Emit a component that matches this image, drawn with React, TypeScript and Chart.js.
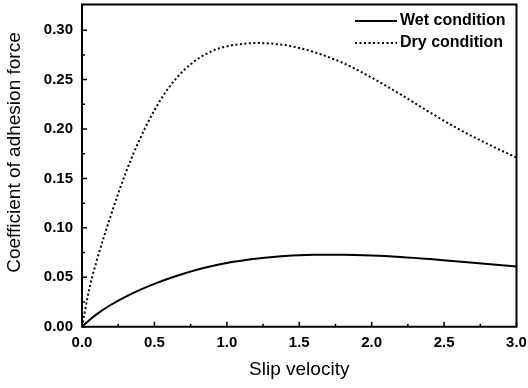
import React, { useEffect, useRef } from "react";
import { Chart, registerables } from "chart.js";

Chart.register(...registerables);

const velocity = [0, 0.05, 0.1, 0.2, 0.3, 0.4, 0.5, 0.6, 0.7, 0.8, 0.9, 1.0, 1.1, 1.2, 1.3, 1.4, 1.5, 1.6, 1.8, 2.0, 2.2, 2.4, 2.6, 2.8, 3.0];
const wetValues = [0, 0.0065, 0.0125, 0.0222, 0.0302, 0.0372, 0.0433, 0.0487, 0.0535, 0.0578, 0.0614, 0.0645, 0.0668, 0.0688, 0.0703, 0.0715, 0.0723, 0.0727, 0.0728, 0.0721, 0.0706, 0.0685, 0.066, 0.0635, 0.061];
const dryValues = [0, 0.038, 0.066, 0.113, 0.155, 0.19, 0.219, 0.242, 0.259, 0.271, 0.279, 0.2837, 0.286, 0.287, 0.2865, 0.285, 0.282, 0.278, 0.267, 0.252, 0.235, 0.217, 0.2, 0.185, 0.171];
const seriesLabels = ["Wet condition", "Dry condition"];
const xTitle = "Slip velocity";
const yTitle = "Coefficient of adhesion force";

const FONT = "'Liberation Sans', Arial, sans-serif";

const framePlugin = {
  id: "frameTicks",
  afterDatasetsDraw(chart: any) {
    const { ctx, chartArea } = chart;
    const { left, right, top, bottom } = chartArea;
    const xs = chart.scales.x;
    const ys = chart.scales.y;
    ctx.save();
    ctx.strokeStyle = "#000";
    ctx.lineWidth = 2;
    ctx.beginPath();
    ctx.rect(left, top, right - left, bottom - top);
    ctx.stroke();
    ctx.lineWidth = 1.5;
    ctx.beginPath();
    for (let v = 0; v <= 3.0001; v += 0.25) {
      const px = xs.getPixelForValue(v);
      const major = Math.abs(v * 2 - Math.round(v * 2)) < 1e-6;
      const len = major ? 5 : 3;
      ctx.moveTo(px, bottom);
      ctx.lineTo(px, bottom - len);
    }
    for (let v = 0; v <= 0.3001; v += 0.025) {
      const py = ys.getPixelForValue(v);
      const major = Math.abs(v * 20 - Math.round(v * 20)) < 1e-6;
      const len = major ? 5 : 3;
      ctx.moveTo(left, py);
      ctx.lineTo(left + len, py);
    }
    ctx.stroke();

    // y axis title (offset upward as in the original)
    ctx.save();
    ctx.translate(15, 152.5);
    ctx.rotate(-Math.PI / 2);
    ctx.font = `19px ${FONT}`;
    ctx.fillStyle = "#000";
    ctx.textAlign = "center";
    ctx.textBaseline = "middle";
    ctx.fillText(yTitle, 0, 0);
    ctx.restore();

    // legend
    const rows = [
      { y: 21, ds: chart.data.datasets[0] },
      { y: 43, ds: chart.data.datasets[1] },
    ];
    ctx.font = `bold 16px ${FONT}`;
    ctx.textBaseline = "middle";
    ctx.textAlign = "left";
    ctx.fillStyle = "#000";
    for (const r of rows) {
      ctx.beginPath();
      ctx.strokeStyle = "#000";
      ctx.lineWidth = r.ds.borderWidth;
      ctx.setLineDash(r.ds.borderDash || []);
      ctx.moveTo(355, r.y);
      ctx.lineTo(397, r.y);
      ctx.stroke();
      ctx.setLineDash([]);
      ctx.fillText(r.ds.label, 400, r.y);
    }
    ctx.restore();
  },
};

export default function App() {
  const ref = useRef<HTMLCanvasElement | null>(null);
  useEffect(() => {
    const canvas = ref.current;
    if (!canvas) return;
    const chart = new Chart(canvas, {
      type: "line",
      data: {
        datasets: [
          {
            label: seriesLabels[0],
            data: velocity.map((x, i) => ({ x, y: wetValues[i] })),
            borderColor: "#000",
            borderWidth: 2,
            pointRadius: 0,
            cubicInterpolationMode: "monotone",
            fill: false,
          },
          {
            label: seriesLabels[1],
            data: velocity.map((x, i) => ({ x, y: dryValues[i] })),
            borderColor: "#000",
            borderWidth: 2,
            borderDash: [2, 2.5],
            pointRadius: 0,
            cubicInterpolationMode: "monotone",
            fill: false,
          },
        ],
      },
      options: {
        animation: false,
        responsive: false,
        devicePixelRatio: 1,
        layout: { padding: { left: 0, top: 4.5, right: 11.5, bottom: 0 } },
        plugins: { legend: { display: false }, tooltip: { enabled: false } },
        scales: {
          x: {
            type: "linear",
            min: 0,
            max: 3,
            afterFit: (s: any) => { s.height = 61.3; s.paddingLeft = 0; s.paddingRight = 0; },
            grid: { display: false, drawTicks: false },
            border: { display: false },
            ticks: {
              stepSize: 0.5,
              includeBounds: false,
              padding: 7,
              color: "#000",
              font: { family: FONT, size: 15, weight: "bold" },
              callback: (v: any) => Number(v).toFixed(1),
            },
            title: {
              display: true,
              text: xTitle,
              color: "#000",
              font: { family: FONT, size: 19 },
              padding: { top: 0, bottom: 6.5 },
            },
          },
          y: {
            type: "linear",
            min: 0,
            max: 0.326,
            afterFit: (s: any) => { s.width = 82; s.paddingTop = 0; s.paddingBottom = 0; },
            grid: { display: false, drawTicks: false },
            border: { display: false },
            ticks: {
              stepSize: 0.05,
              includeBounds: false,
              padding: 9,
              color: "#000",
              font: { family: FONT, size: 15, weight: "bold" },
              callback: (v: any) => Number(v).toFixed(2),
            },
            title: { display: false, text: yTitle },
          },
        },
      },
      plugins: [framePlugin],
    } as any);
    return () => chart.destroy();
  }, []);
  return (
    <div style={{ position: "absolute", left: 0, top: 0, width: 528, height: 388, background: "#fff" }}>
      <canvas ref={ref} width={528} height={388} />
    </div>
  );
}
